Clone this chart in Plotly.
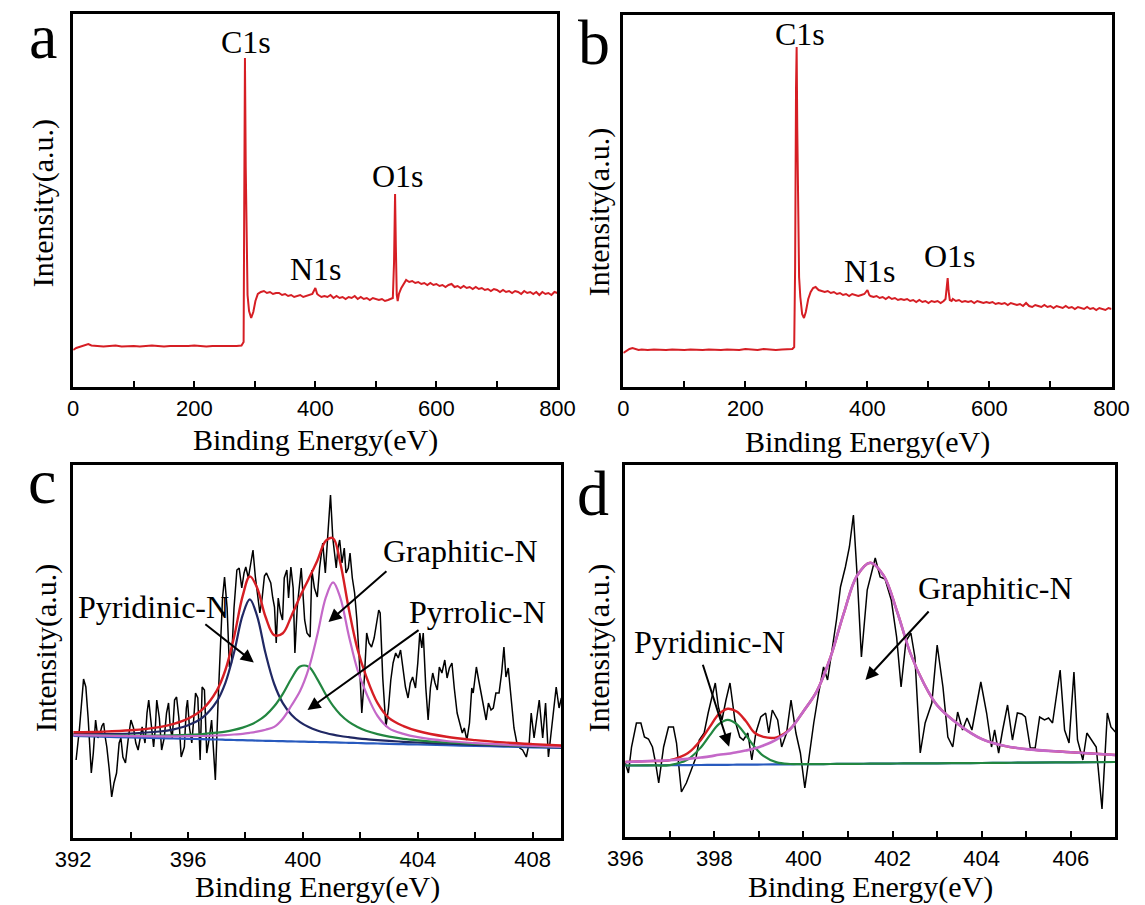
import plotly.graph_objects as go

W, H = 1145, 905

# ---------------- survey spectrum, sample a ----------------
energy_a = [0, 5, 10, 15, 20, 25, 30, 40, 50, 60, 70, 80, 90, 100, 110, 120, 130, 140, 150, 160,
            170, 180, 190, 200, 210, 220, 230, 240, 250, 260, 270, 278, 281.5, 282.5, 283.7, 285,
            286.4, 288, 290.5, 294, 297.5, 301, 305, 310, 315, 320, 325, 330, 335, 340, 345, 350,
            355, 360, 365, 370, 375, 380, 385, 390, 395, 400, 403, 405, 410, 415, 420, 425, 430,
            435, 440, 445, 450, 455, 460, 465, 470, 475, 480, 485, 490, 495, 500, 505, 510, 515,
            520, 525, 528, 530, 531.7, 533, 534.5, 536, 538, 542, 546, 550, 555, 560, 565, 570,
            575, 580, 585, 590, 595, 600, 605, 610, 615, 620, 625, 630, 635, 640, 645, 650, 655,
            660, 665, 670, 675, 680, 685, 690, 695, 700, 705, 710, 715, 720, 725, 730, 735, 740,
            745, 750, 755, 760, 765, 770, 775, 780, 785, 790, 795, 800]
intensity_a = [37, 39, 40, 41, 42, 43, 41.5, 41, 40.5, 41, 41.5, 40.5, 41, 41, 40.5, 41, 41.5, 41,
               40.5, 41, 41, 40.5, 41, 41.5, 41, 40.5, 41, 41, 40.5, 41, 41, 41.5, 45, 180, 329,
               220, 124, 92, 76, 69, 75, 86, 93, 95, 96, 94, 95, 93, 94, 94, 92, 93, 91, 92, 90,
               91, 92, 90, 91, 92, 93, 99, 93, 92, 90, 91, 90, 92, 89, 91, 89, 90, 88, 90, 89, 91,
               88, 90, 88, 89, 87, 89, 88, 87, 88, 86, 87, 88, 89, 125, 193, 140, 92, 86, 93, 99,
               103, 107, 105, 106, 104, 105, 103, 104, 102, 104, 102, 103, 101, 102, 100, 102, 103,
               100, 101, 99, 101, 99, 100, 98, 100, 98, 99, 97, 98, 96, 98, 97, 95, 97, 95, 96, 94,
               96, 95, 93, 96, 94, 95, 93, 95, 92, 95, 93, 94, 92, 95, 94]

# ---------------- survey spectrum, sample b ----------------
energy_b = [0, 5, 10, 15, 20, 25, 30, 40, 50, 60, 70, 80, 90, 100, 110, 120, 130, 140, 150, 160,
            170, 180, 190, 200, 210, 220, 230, 240, 250, 260, 270, 277, 280, 281.5, 283, 284, 285,
            286.5, 288, 290, 293, 296, 299, 303, 307, 311, 315, 320, 325, 330, 335, 340, 345, 350,
            355, 360, 365, 370, 375, 380, 385, 390, 395, 400, 403, 405, 410, 415, 420, 425, 430,
            435, 440, 445, 450, 455, 460, 465, 470, 475, 480, 485, 490, 495, 500, 505, 510, 515,
            520, 525, 528, 530, 531.5, 533, 535, 538, 540, 545, 550, 555, 560, 565, 570, 575, 580,
            585, 590, 595, 600, 605, 610, 615, 620, 625, 630, 635, 640, 645, 650, 655, 660, 665,
            670, 675, 680, 685, 690, 695, 700, 705, 710, 715, 720, 725, 730, 735, 740, 745, 750,
            755, 760, 765, 770, 775, 780, 785, 790, 795, 800]
intensity_b = [34, 36, 38, 39, 38, 37, 37.5, 37, 37.5, 37, 37, 37.5, 37, 37, 37.5, 37, 37, 37.5, 37,
               37, 37.5, 37, 37, 38, 37.5, 37, 38, 37.5, 37, 37.5, 38, 38, 40, 120, 300, 340, 260,
               150, 110, 90, 73, 69, 75, 88, 95, 99, 100, 97, 96, 95, 96, 94, 95, 93, 94, 92, 93,
               91, 93, 92, 91, 92, 93, 97, 92, 91, 90, 91, 89, 90, 88, 90, 88, 89, 87, 88, 87, 88,
               86, 87, 85, 87, 85, 86, 84, 86, 85, 86, 84, 86, 88, 100, 109, 96, 87, 86, 88, 86, 87,
               85, 86, 85, 86, 84, 86, 85, 84, 85, 84, 85, 83, 84, 83, 84, 82, 84, 83, 82, 83, 81,
               84, 81, 80, 82, 81, 80, 82, 80, 81, 79, 81, 80, 79, 81, 79, 80, 78, 80, 79, 78, 80,
               78, 79, 77, 79, 78, 77, 79, 78]

# ---------------- N1s high-resolution scan, sample a ----------------
n1s_c_energy = [392.10, 392.22, 392.36, 392.44, 392.52, 392.63, 392.70, 392.78, 392.86, 392.94,
                393.00, 393.06, 393.12, 393.17, 393.25, 393.34, 393.42, 393.51, 393.60, 393.66,
                393.73, 393.82, 393.92, 394.01, 394.10, 394.18, 394.26, 394.33, 394.40, 394.50,
                394.57, 394.63, 394.72, 394.80, 394.86, 394.91, 395.00, 395.08, 395.17, 395.25,
                395.32, 395.38, 395.45, 395.53, 395.60, 395.68, 395.76, 395.87, 395.94, 395.98,
                396.05, 396.13, 396.20, 396.26, 396.34, 396.42, 396.49, 396.57, 396.65, 396.74,
                396.82, 396.88, 396.95, 397.05, 397.13, 397.20, 397.27, 397.36, 397.44, 397.51,
                397.60, 397.70, 397.78, 397.87, 397.95, 398.01, 398.10, 398.18, 398.26, 398.34,
                398.42, 398.50, 398.58, 398.66, 398.73, 398.80, 398.88, 398.95, 399.01, 399.07,
                399.14, 399.22, 399.29, 399.35, 399.44, 399.50, 399.58, 399.66, 399.72, 399.80,
                399.88, 399.94, 400.00, 400.06, 400.14, 400.25, 400.31, 400.40, 400.50, 400.58,
                400.69, 400.78, 400.86, 400.96, 401.04, 401.09, 401.16, 401.22, 401.28, 401.36,
                401.44, 401.50, 401.58, 401.64, 401.72, 401.80, 401.88, 401.96, 402.05, 402.14,
                402.22, 402.30, 402.39, 402.48, 402.56, 402.64, 402.69, 402.78, 402.89, 402.98,
                403.06, 403.14, 403.23, 403.32, 403.40, 403.50, 403.57, 403.66, 403.74, 403.82,
                403.92, 404.00, 404.07, 404.14, 404.19, 404.28, 404.36, 404.44, 404.52, 404.60,
                404.68, 404.75, 404.84, 404.94, 405.02, 405.10, 405.19, 405.27, 405.37, 405.46,
                405.55, 405.62, 405.71, 405.80, 405.88, 405.93, 406.04, 406.12, 406.20, 406.32,
                406.38, 406.46, 406.55, 406.63, 406.72, 406.83, 406.92, 407.00, 407.07, 407.15,
                407.25, 407.35, 407.45, 407.55, 407.65, 407.78, 407.88, 407.95, 408.05, 408.23,
                408.35, 408.45, 408.55, 408.70, 408.82, 408.92, 409.00]
n1s_c_counts = [78, 110, 159, 151, 120, 65, 85, 118, 100, 105,
                112, 115, 100, 91, 70, 41, 55, 65, 95, 100,
                81, 75, 100, 118, 110, 95, 88, 100, 111, 95,
                125, 138, 110, 91, 110, 138, 120, 88, 100, 125,
                135, 110, 100, 138, 141, 120, 81, 91, 130, 138,
                110, 95, 120, 145, 140, 78, 151, 148, 85, 100,
                118, 90, 58, 140, 191, 240, 261, 230, 171, 175,
                230, 268, 270, 250, 265, 271, 260, 275, 288, 262,
                245, 225, 240, 262, 265, 260, 255, 240, 231, 195,
                240, 225, 218, 260, 268, 240, 271, 250, 185, 230,
                255, 270, 245, 218, 205, 201, 268, 250, 241, 270,
                295, 265, 300, 343, 300, 288, 270, 290, 298, 275,
                290, 265, 270, 285, 260, 245, 218, 180, 125, 160,
                205, 195, 191, 200, 215, 228, 225, 160, 111, 130,
                158, 175, 185, 180, 188, 165, 151, 140, 155, 161,
                150, 175, 205, 190, 205, 150, 118, 150, 165, 155,
                148, 171, 165, 178, 160, 170, 175, 150, 125, 115,
                105, 110, 98, 115, 150, 145, 171, 158, 145, 125,
                118, 135, 128, 130, 145, 145, 165, 191, 161, 170,
                140, 110, 95, 90, 88, 81, 95, 125, 100, 138,
                100, 135, 81, 120, 151, 130, 140]

# peak-fit curves for the scan above (baseline, components, envelope)
fit_c_energy = [392, 393, 394, 395, 395.5, 396, 396.5, 397, 397.3, 397.6, 397.9, 398.15, 398.4,
                398.7, 399.0, 399.3, 399.6, 399.9, 400.2, 400.5, 400.8, 401.05, 401.3, 401.6,
                401.9, 402.2, 402.6, 403, 403.5, 404, 405, 406, 407, 408, 409]
fit_c_baseline = [102.0, 101.3, 100.6, 99.9, 99.5, 99.2, 98.8, 98.5, 98.2, 98.0, 97.8, 97.6, 97.4,
                  97.2, 97.0, 96.8, 96.6, 96.4, 96.2, 96.0, 95.8, 95.6, 95.4, 95.2, 95.0, 94.7,
                  94.5, 94.2, 93.8, 93.5, 92.8, 92.1, 91.4, 90.7, 90.0]
fit_c_pyridinic = [103.8, 103.9, 104.5, 106.5, 108.7, 112.7, 120.3, 136.6, 155.2, 185.2, 222.8,
                   238.6, 222.4, 184.4, 154.0, 134.9, 123.3, 115.8, 110.9, 107.5, 105.0, 103.3,
                   102.0, 100.8, 99.7, 98.8, 97.9, 97.1, 96.2, 95.5, 94.3, 93.2, 92.3, 91.4, 90.6]
fit_c_pyrrolic = [103.1, 102.7, 102.5, 102.5, 102.7, 103.2, 103.9, 105.3, 106.4, 108.1, 110.4,
                  113.0, 116.6, 122.7, 131.7, 144.2, 159.5, 171.5, 171.3, 158.9, 143.2, 132.1,
                  123.6, 116.2, 111.1, 107.3, 103.9, 101.4, 99.2, 97.7, 95.5, 94.0, 92.8, 91.8, 90.9]
fit_c_graphitic = [102.8, 102.3, 101.9, 101.7, 101.7, 101.8, 102.0, 102.5, 102.8, 103.5, 104.2,
                   105.2, 106.4, 108.3, 111.1, 119.3, 132.5, 146.9, 169.3, 202.9, 240.8, 255.6,
                   240.4, 202.1, 168.1, 145.2, 122.0, 109.7, 104.1, 100.8, 97.0, 94.9, 93.3, 92.1,
                   91.1]
fit_c_envelope = [105.7, 106.3, 107.7, 110.9, 114.1, 119.3, 128.6, 147.4, 168.0, 200.8, 241.8,
                  261.6, 250.6, 221.0, 202.8, 204.8, 222.1, 241.4, 259.1, 277.3, 297.4, 299.8,
                  275.2, 228.7, 188.9, 161.9, 134.8, 119.8, 111.9, 107.0, 101.2, 97.9, 95.6, 93.9,
                  92.5]

# ---------------- N1s high-resolution scan, sample b ----------------
n1s_d_energy = [396.00, 396.07, 396.14, 396.20, 396.25, 396.35, 396.43, 396.52, 396.61, 396.68,
                396.75, 396.86, 396.97, 397.08, 397.15, 397.26, 397.37, 397.48, 397.59, 397.66,
                397.77, 397.86, 398.02, 398.09, 398.17, 398.26, 398.35, 398.46, 398.57, 398.65,
                398.75, 398.84, 398.93, 399.04, 399.15, 399.22, 399.30, 399.42, 399.51, 399.62,
                399.72, 399.83, 399.93, 400.03, 400.12, 400.23, 400.34, 400.45, 400.54, 400.63,
                400.74, 400.83, 400.94, 401.03, 401.12, 401.21, 401.30, 401.43, 401.61, 401.72,
                401.83, 401.97, 402.09, 402.19, 402.30, 402.41, 402.50, 402.62, 402.73, 402.88,
                403.00, 403.13, 403.24, 403.35, 403.46, 403.57, 403.67, 403.78, 403.98, 404.11,
                404.22, 404.29, 404.38, 404.47, 404.58, 404.69, 404.80, 404.90, 404.98, 405.09,
                405.20, 405.30, 405.41, 405.50, 405.59, 405.76, 405.86, 405.96, 406.07, 406.15,
                406.27, 406.36, 406.46, 406.57, 406.70, 406.82, 406.90, 407.00]
n1s_d_counts = [74, 64, 90, 105, 114, 114, 100, 98, 90, 74,
                54, 90, 110, 110, 94, 45, 54, 67, 80, 97,
                104, 124, 154, 130, 117, 137, 154, 117, 100, 97,
                104, 77, 104, 120, 124, 104, 127, 117, 90, 104,
                137, 104, 84, 49, 80, 114, 144, 170, 157, 184,
                217, 250, 270, 290, 322, 257, 180, 247, 279, 260,
                258, 237, 200, 150, 196, 204, 180, 84, 114, 134,
                192, 150, 100, 90, 125, 107, 119, 107, 155, 124,
                90, 107, 84, 107, 132, 97, 124, 123, 120, 89,
                89, 120, 117, 119, 114, 167, 107, 94, 165, 97,
                77, 104, 97, 90, 28, 124, 110, 105]

fit_d_energy = [396, 396.5, 397, 397.4, 397.7, 397.9, 398.1, 398.3, 398.5, 398.7, 398.9, 399.1,
                399.4, 399.7, 400.0, 400.3, 400.6, 400.9, 401.2, 401.5, 401.8, 402.1, 402.4, 402.7,
                403.0, 403.5, 404.0, 404.5, 405.0, 406.0, 407.0]
fit_d_baseline = [71.5, 71.7, 71.8, 71.9, 72.0, 72.1, 72.2, 72.2, 72.3, 72.4, 72.4, 72.5, 72.6,
                  72.7, 72.8, 72.9, 73.0, 73.1, 73.2, 73.3, 73.4, 73.5, 73.6, 73.7, 73.7, 73.9,
                  74.0, 74.2, 74.4, 74.7, 75.0]
fit_d_pyridinic = [71.5, 71.7, 71.9, 77.5, 89.8, 101.9, 112.8, 117.2, 112.9, 102.2, 90.2, 81.1,
                   74.6, 73.0, 72.8, 72.9, 73.0, 73.1, 73.2, 73.3, 73.4, 73.5, 73.6, 73.7, 73.7,
                   73.9, 74.0, 74.2, 74.4, 74.7, 75.0]
fit_d_graphitic = [75.0, 75.9, 76.8, 78.1, 79.5, 80.6, 82.2, 83.2, 84.8, 86.4, 88.4, 91.5, 97.6,
                   107.7, 125.8, 145.9, 179.0, 223.1, 261.2, 274.3, 261.4, 225.5, 183.6, 153.7,
                   131.7, 111.9, 98.0, 91.2, 87.9, 84.7, 82.0]
fit_d_envelope = [75.0, 75.9, 76.9, 83.7, 97.3, 110.4, 122.8, 128.2, 125.4, 116.2, 104.2, 100.1,
                  99.6, 108.0, 125.8, 145.9, 179.0, 223.1, 261.2, 274.3, 261.4, 225.5, 183.6,
                  153.7, 131.7, 111.9, 98.0, 91.2, 87.9, 84.7, 82.0]

# ---------------- axis ticks ----------------
survey_ticks = [0, 100, 200, 300, 400, 500, 600, 700, 800]
survey_labels = ["0", "", "200", "", "400", "", "600", "", "800"]
c_ticks = [392, 394, 396, 398, 400, 402, 404, 406, 408]
c_labels = ["392", "", "396", "", "400", "", "404", "", "408"]
d_ticks = [396, 397, 398, 399, 400, 401, 402, 403, 404, 405, 406, 407]
d_labels = ["396", "", "398", "", "400", "", "402", "", "404", "", "406", ""]

SERIF = "Liberation Serif"
SANS = "Liberation Sans"
RED = "rgb(214,30,36)"
NAVY = "rgb(32,40,100)"
GREEN = "rgb(34,134,64)"
PURPLE = "rgb(196,104,200)"
BLUE = "rgb(40,90,190)"

TITLE_SIZE = 30
LABEL_SIZE = 32
TICK_SIZE = 22
LETTER_SIZE = 64


def px_x(p):
    return p / W


def px_y(p):
    return 1 - p / H


# panel frames in pixels: (left, right, top, bottom)
frames = {
    "a": (57, 557, 14, 387),
    "b": (625, 1129, 15, 387),
    "c": (57, 561, 465, 838),
    "d": (627, 1133, 465, 837),
}

fig = go.Figure()


def line(x, y, axis, color, width, spline=False):
    fig.add_trace(go.Scatter(
        x=x, y=y, mode="lines", xaxis="x" + axis, yaxis="y" + axis,
        line=dict(color=color, width=width, shape="spline" if spline else "linear",
                  smoothing=1.0 if spline else None),
        showlegend=False, hoverinfo="skip"))


# a / b survey spectra
line(energy_a, intensity_a, "", RED, 2)
line(energy_b, intensity_b, "2", RED, 2)

# c: raw scan, baseline, components, envelope
line(n1s_c_energy, n1s_c_counts, "3", "black", 1.5)
line(fit_c_energy, fit_c_baseline, "3", BLUE, 2.2, True)
line(fit_c_energy, fit_c_pyridinic, "3", NAVY, 2.2, True)
line(fit_c_energy, fit_c_pyrrolic, "3", GREEN, 2.2, True)
line(fit_c_energy, fit_c_graphitic, "3", PURPLE, 2.2, True)
line(fit_c_energy, fit_c_envelope, "3", RED, 2.4, True)

# d: raw scan, baseline, envelope, components
line(n1s_d_energy, n1s_d_counts, "4", "black", 1.5)
line(fit_d_energy, fit_d_baseline, "4", BLUE, 2.2, True)
line(fit_d_energy, fit_d_envelope, "4", RED, 2.4, True)
line(fit_d_energy, fit_d_pyridinic, "4", GREEN, 2.2, True)
line(fit_d_energy, fit_d_graphitic, "4", PURPLE, 2.6, True)


def xaxis(key, rng, ticks, labels):
    l, r, t, b = frames[key]
    return dict(domain=[px_x(l), px_x(r)], range=rng, tickvals=ticks, ticktext=labels,
                ticks="inside", ticklen=6, tickwidth=2, tickcolor="black",
                showline=True, linecolor="black", linewidth=2.5, mirror=True,
                showgrid=False, zeroline=False,
                tickfont=dict(family=SANS, size=TICK_SIZE, color="black"))


def yaxis(key, rng):
    l, r, t, b = frames[key]
    return dict(domain=[px_y(b), px_y(t)], range=rng, showticklabels=False, ticks="",
                showline=True, linecolor="black", linewidth=2.5, mirror=True,
                showgrid=False, zeroline=False)


fig.update_layout(
    width=W, height=H, margin=dict(l=0, r=0, t=0, b=0),
    paper_bgcolor="white", plot_bgcolor="white",
    xaxis=dict(xaxis("a", [0, 800], survey_ticks, survey_labels), anchor="y"),
    yaxis=dict(yaxis("a", [0, 373]), anchor="x"),
    xaxis2=dict(xaxis("b", [0, 800], survey_ticks, survey_labels), anchor="y2"),
    yaxis2=dict(yaxis("b", [0, 372]), anchor="x2"),
    xaxis3=dict(xaxis("c", [392, 409], c_ticks, c_labels), anchor="y3"),
    yaxis3=dict(yaxis("c", [0, 373]), anchor="x3"),
    xaxis4=dict(xaxis("d", [396, 407], d_ticks, d_labels), anchor="y4"),
    yaxis4=dict(yaxis("d", [0, 372]), anchor="x4"),
)

ann = []


def text(t, x, y, size, ref="paper", angle=0, yanchor="middle"):
    if ref == "paper":
        ann.append(dict(text=t, x=px_x(x), y=px_y(y), xref="paper", yref="paper",
                        showarrow=False, textangle=angle, xanchor="center", yanchor=yanchor,
                        borderpad=0, font=dict(family=SERIF, size=size, color="black")))
    else:
        ann.append(dict(text=t, x=x, y=y, xref="x" + ref, yref="y" + ref,
                        showarrow=False, xanchor="center", yanchor=yanchor, borderpad=0,
                        font=dict(family=SERIF, size=size, color="black")))


def arrow(axis, head, tail):
    ann.append(dict(text="", x=head[0], y=head[1], ax=tail[0], ay=tail[1],
                    xref="x" + axis, yref="y" + axis, axref="x" + axis, ayref="y" + axis,
                    showarrow=True, arrowhead=2, arrowsize=1.3, arrowwidth=2,
                    arrowcolor="black"))


# panel letters
text("a", 26, 0, LETTER_SIZE, yanchor="top")
text("b", 595, 43, LETTER_SIZE)
text("c", 25, 481, LETTER_SIZE)
text("d", 594, 493, LETTER_SIZE)

# axis titles
text("Binding Energy(eV)", 307, 440, TITLE_SIZE)
text("Binding Energy(eV)", 877, 442, TITLE_SIZE)
text("Binding Energy(eV)", 309, 905, TITLE_SIZE, yanchor="bottom")
text("Binding Energy(eV)", 880, 905, TITLE_SIZE, yanchor="bottom")
text("Intensity(a.u.)", 26, 203, TITLE_SIZE, angle=-90)
text("Intensity(a.u.)", 600, 212, TITLE_SIZE, angle=-90)
text("Intensity(a.u.)", 29, 648, TITLE_SIZE, angle=-90)
text("Intensity(a.u.)", 600, 648, TITLE_SIZE, angle=-90)

# peak labels (data coordinates)
text("C1s", 284.8, 345, LABEL_SIZE, ref="")
text("N1s", 401.6, 118, LABEL_SIZE, ref="")
text("O1s", 536, 211, LABEL_SIZE, ref="")
text("C1s", 288.9, 353, LABEL_SIZE, ref="2")
text("N1s", 404.8, 116, LABEL_SIZE, ref="2")
text("O1s", 534.9, 131, LABEL_SIZE, ref="2")

text("Pyridinic-N", 394.80, 231, LABEL_SIZE, ref="3")
text("Graphitic-N", 405.49, 287, LABEL_SIZE, ref="3")
text("Pyrrolic-N", 406.07, 226, LABEL_SIZE, ref="3")
arrow("3", (398.29, 175.5), (396.55, 215))
arrow("3", (400.89, 216), (402.96, 268))
arrow("3", (400.16, 128), (404.08, 209))

text("Pyridinic-N", 397.89, 195, LABEL_SIZE, ref="4")
text("Graphitic-N", 404.30, 249, LABEL_SIZE, ref="4")
arrow("4", (398.33, 90.3), (397.73, 173.7))
arrow("4", (401.39, 157), (402.84, 227))

fig.update_layout(annotations=ann)
fig.write_html("out.html")
